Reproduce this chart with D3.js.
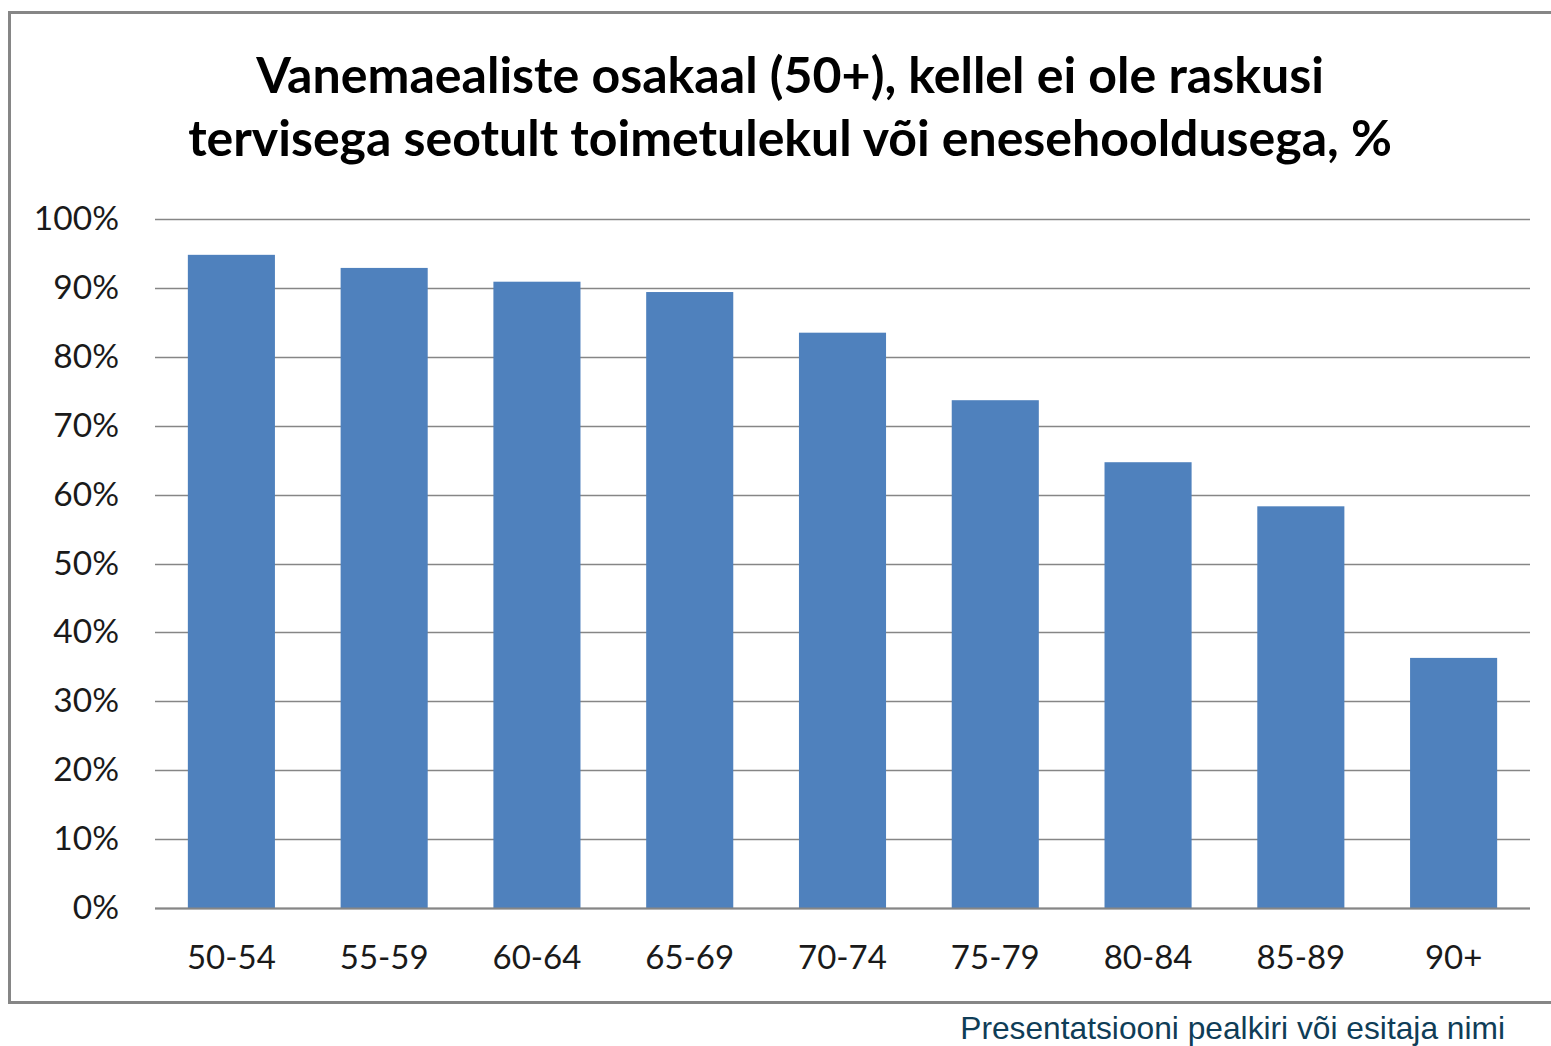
<!DOCTYPE html>
<html lang="et">
<head>
  <meta charset="UTF-8">
  <title></title>
  <style>
    html, body {
      margin: 0;
      overflow: hidden;
      width: 100%;
      height: 100%;
      background: white;
    }
    svg {
      position: absolute;
      top: 0;
      left: 0;
      width: 1551px;
      height: 1046px;
      background: white;
    }
  </style>
</head>
<body>
  <svg></svg>
</body>
<script src="https://d3js.org/d3.v7.min.js"></script>
<script type="text/javascript">
  const categories = ['50-54', '55-59', '60-64', '65-69', '70-74', '75-79', '80-84', '85-89', '90+']
  const values = [94.8, 92.9, 90.9, 89.4, 83.5, 73.7, 64.7, 58.3, 36.3]
  const yTicks = [0, 10, 20, 30, 40, 50, 60, 70, 80, 90, 100]
  const titleLines = [
    'Vanemaealiste osakaal (50+), kellel ei ole raskusi',
    'tervisega seotult toimetulekul või enesehooldusega, %'
  ]
  const footer = 'Presentatsiooni pealkiri või esitaja nimi'

  const svg = d3.select('svg')
  const font = 'Lato, "Open Sans", "DejaVu Sans", sans-serif'

  // fit a text element to a measured width
  function fit(el, size, w) {
    const len = el.node().getComputedTextLength()
    el.attr('font-size', size * w / len)
  }

  // frame
  svg.append('rect')
    .attr('x', 9.5)
    .attr('y', 12.5)
    .attr('width', 1600)
    .attr('height', 990)
    .attr('fill', 'white')
    .attr('stroke', '#868686')
    .attr('stroke-width', 3)

  // title
  const titleSpec = [
    {text: titleLines[0], y: 93, w: 1068},
    {text: titleLines[1], y: 156, w: 1204}
  ]
  titleSpec.forEach(t => {
    const el = svg.append('text')
      .attr('x', 790)
      .attr('y', t.y)
      .attr('text-anchor', 'middle')
      .attr('font-family', font)
      .attr('font-weight', 'bold')
      .attr('font-size', 44)
      .attr('fill', '#000')
      .text(t.text)
    fit(el, 44, t.w)
  })

  const x = d3.scaleBand()
    .domain(categories)
    .range([155, 1530])
    .paddingInner(0.43)
    .paddingOuter(0.215)

  const y = d3.scaleLinear()
    .domain([0, 100])
    .range([908, 219])

  // gridlines
  svg.append('g')
    .selectAll('line')
    .data(yTicks)
    .enter()
    .append('line')
    .attr('x1', 155)
    .attr('x2', 1530)
    .attr('y1', d => Math.round(y(d)) + 0.5)
    .attr('y2', d => Math.round(y(d)) + 0.5)
    .attr('stroke', '#868686')
    .attr('stroke-width', 1.5)

  // bars
  svg.append('g')
    .selectAll('rect')
    .data(values)
    .enter()
    .append('rect')
    .attr('x', (d, i) => x(categories[i]))
    .attr('width', x.bandwidth())
    .attr('y', d => y(d))
    .attr('height', d => y(0) - y(d))
    .attr('fill', '#4f81bd')

  // axis line over the bars
  svg.append('line')
    .attr('x1', 155)
    .attr('x2', 1530)
    .attr('y1', y(0) + 0.5)
    .attr('y2', y(0) + 0.5)
    .attr('stroke', '#868686')
    .attr('stroke-width', 2)

  // y tick labels
  svg.append('g')
    .selectAll('text')
    .data(yTicks)
    .enter()
    .append('text')
    .attr('x', 119)
    .attr('y', d => y(d) + 11)
    .attr('text-anchor', 'end')
    .attr('font-family', font)
    .attr('font-size', 33.5)
    .attr('fill', '#1a1a1a')
    .text(d => d + '%')

  // category labels
  svg.append('g')
    .selectAll('text')
    .data(categories)
    .enter()
    .append('text')
    .attr('x', d => x(d) + x.bandwidth() / 2)
    .attr('y', 969)
    .attr('text-anchor', 'middle')
    .attr('font-family', font)
    .attr('font-size', 33)
    .attr('fill', '#1a1a1a')
    .text(d => d)

  // footer
  const foot = svg.append('text')
    .attr('x', 1505)
    .attr('y', 1039)
    .attr('text-anchor', 'end')
    .attr('font-family', '"Liberation Sans", Arial, sans-serif')
    .attr('font-size', 29)
    .attr('fill', '#0f3d57')
    .text(footer)
  fit(foot, 29, 545)
</script>
</html>
